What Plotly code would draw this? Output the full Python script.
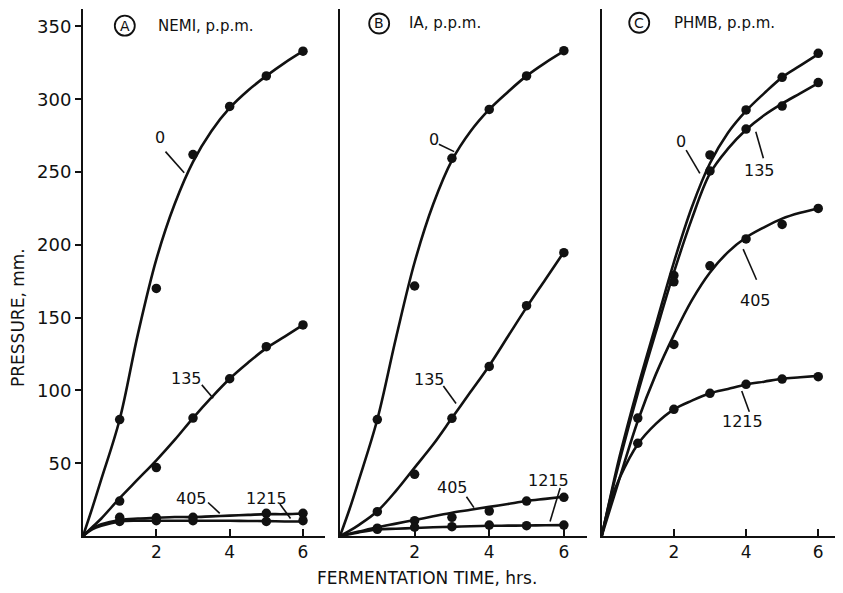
import plotly.graph_objects as go

# ---------------- data ----------------
HOURS = [1, 2, 3, 4, 5, 6]
CURVE_T = [0, 0.25, 0.5, 1, 1.5, 2, 2.5, 3, 3.5, 4, 4.5, 5, 5.5, 6]
SERIES = ["0", "135", "405", "1215"]
X_TICKS = [2, 4, 6]
Y_TICKS = [50, 100, 150, 200, 250, 300, 350]

# Panel A: NEMI, p.p.m.
NEMI_PTS = {
    "0":    [80, 170, 262, 295, 316, 333],
    "135":  [24, 47, 81, 108, 130, 145],
    "405":  [12.8, 12.5, 12.8, None, 15.6, 15.6],
    "1215": [10, 10.5, 10.5, None, 10, 10.5],
}
NEMI_CURVES = {
    "0":    [0, 19, 39, 80, 139, 190, 228, 257, 278, 294, 306, 316, 325, 333],
    "135":  [0, 6, 12, 26, 39, 52, 66, 81, 95, 108, 119, 129, 137, 145],
    "405":  [0, 5, 8, 11, 12, 12.5, 13, 13, 13.5, 14, 14.5, 15, 15, 15.5],
    "1215": [0, 4.5, 7, 10, 10.5, 10.5, 10.5, 10.5, 10.5, 10.5, 10.3, 10.2, 10, 10],
}

# Panel B: IA, p.p.m.
IA_PTS = {
    "0":    [80, 171.7, 259.4, 293, 316, 333.3],
    "135":  [16.7, 42.4, 80.8, 116.5, 158.2, 194.6],
    "405":  [5.4, 10.5, 12.8, 17.1, 24, 26.6],
    "1215": [4.6, 6, 6.4, 7.5, 7.1, 7.5],
}
IA_CURVES = {
    "0":    [0, 18, 38, 80, 136, 188, 228, 258, 278, 293, 305, 316, 325, 333],
    "135":  [0, 3.5, 7.5, 17, 31, 47, 63, 81, 99, 117, 137, 157, 176, 195],
    "405":  [0, 1.5, 3, 6, 8.5, 11, 13.5, 16, 18, 20, 22, 24, 25.5, 27],
    "1215": [0, 1.2, 2.5, 4.5, 5, 5.5, 6, 6.3, 6.7, 7, 7.1, 7.2, 7.4, 7.5],
}

# Panel C: PHMB, p.p.m.
PHMB_PTS = {
    "0":    [None, 179, 261.7, 292.6, 315, 331.5],
    "135":  [None, 174.6, 250.7, 279.5, 295.3, 311.4],
    "405":  [81, 131.6, 185.6, 204, 214, 225],
    "1215": [63.7, 87, 98, 104.2, 107.8, 109.4],
}
PHMB_CURVES = {
    "0":    [0, 28, 55, 102, 145, 188, 226, 256, 277, 292, 304, 315, 323, 331],
    "135":  [0, 27, 52, 98, 140, 181, 218, 249, 266, 279, 289, 297, 304, 311],
    "405":  [0, 20, 40, 79, 111, 138, 162, 181, 195, 205, 212, 218, 222, 225],
    "1215": [0, 24, 40, 63, 77, 87, 93, 98, 101, 104, 106, 108, 109, 110],
}

PANELS = [
    ("A", "NEMI, p.p.m.", NEMI_PTS, NEMI_CURVES),
    ("B", "IA, p.p.m.", IA_PTS, IA_CURVES),
    ("C", "PHMB, p.p.m.", PHMB_PTS, PHMB_CURVES),
]

# ---------------- layout / styling ----------------
PAGE_W, PAGE_H = 843, 593
OFF = 8                       # default page margin around the plot div
W, H = PAGE_W - OFF, PAGE_H - OFF
FONT = "DejaVu Sans"
INK = "#111111"


def px_x(p):
    return min(max((p - OFF) / W, 0), 1)


def px_y(p):
    return min(max((H - (p - OFF)) / H, 0), 1)


# pixel geometry (page pixels) of each panel (left, right) and common (bottom, top)
PANEL_PX = [(83, 325), (340, 587), (601.7, 837)]
X_RANGES = [[0, 6.6], [0, 6.62], [0, 6.52]]
Y_BOTTOM_PX, Y_TOP_PX = 536, 9
Y_RANGE = [0, (Y_BOTTOM_PX - Y_TOP_PX) / 1.456]

# label annotations: (panel, text, x, y, leader x0, y0, x1, y1)
LABELS = [
    (0, "0", 2.1, 274, 2.25, 264, 2.76, 249.5),
    (0, "135", 2.83, 108, 3.24, 103.8, 3.55, 94.6),
    (0, "405", 2.96, 26, 3.41, 23, 3.73, 15.6),
    (0, "1215", 5.0, 26, 5.37, 22, 5.66, 12),
    (1, "0", 2.52, 272, 2.65, 269, 3.06, 264),
    (1, "135", 2.41, 107.6, 2.77, 103, 3.11, 91),
    (1, "405", 3.01, 33, 3.39, 27, 3.59, 19.5),
    (1, "1215", 5.58, 37.8, 5.9, 33, 5.63, 10),
    (2, "0", 2.19, 270.8, 2.34, 265, 2.72, 249),
    (2, "135", 4.37, 251, 4.48, 259.4, 4.27, 277.7),
    (2, "405", 4.25, 162, 4.29, 176, 3.92, 197),
    (2, "1215", 3.9, 78.5, 4.09, 85.4, 3.88, 99.6),
]
# panel titles: (circle x, circle y, text x)
TITLE_POS = [(1.14, 350.5, 2.0), (1.05, 352, 1.8), (1.04, 352.5, 1.94)]

fig = go.Figure()
annotations = []
shapes = []

for i, (letter, title, pts, curves) in enumerate(PANELS):
    sfx = "" if i == 0 else str(i + 1)
    xref, yref = "x" + sfx, "y" + sfx
    for s in SERIES:
        fig.add_trace(go.Scatter(
            x=CURVE_T, y=curves[s], mode="lines", xaxis=xref, yaxis=yref,
            line=dict(color=INK, width=2.6, shape="spline", smoothing=1.0),
            showlegend=False, hoverinfo="skip"))
        fig.add_trace(go.Scatter(
            x=HOURS, y=pts[s], mode="markers", xaxis=xref, yaxis=yref,
            marker=dict(color=INK, size=9.5, line=dict(width=0)),
            showlegend=False, name=f"{letter} {s} p.p.m."))

    l, r = PANEL_PX[i]
    xa = dict(domain=[px_x(l), px_x(r)], range=X_RANGES[i], showgrid=False,
              zeroline=False, showline=True, linecolor=INK, linewidth=2,
              tickmode="array", tickvals=X_TICKS, ticktext=[str(t) for t in X_TICKS],
              ticks="inside", ticklen=7, tickwidth=2, tickcolor=INK,
              tickfont=dict(family=FONT, size=17, color=INK),
              anchor=yref, automargin=False, fixedrange=True)
    ya = dict(domain=[px_y(Y_BOTTOM_PX), px_y(Y_TOP_PX)], range=Y_RANGE,
              showgrid=False, zeroline=False, showline=True, linecolor=INK,
              linewidth=2, anchor=xref, automargin=False, fixedrange=True)
    if i == 0:
        ya.update(tickmode="array", tickvals=Y_TICKS,
                  ticktext=[str(t) for t in Y_TICKS], ticks="outside",
                  ticklen=6, tickwidth=2, tickcolor=INK,
                  tickfont=dict(family=FONT, size=18, color=INK))
    else:
        ya.update(showticklabels=False, ticks="")
    fig.layout["xaxis" + sfx] = xa
    fig.layout["yaxis" + sfx] = ya

    cx, cy, tx = TITLE_POS[i]
    shapes.append(dict(type="circle", xref=xref, yref=yref, xsizemode="pixel",
                       ysizemode="pixel", xanchor=cx, yanchor=cy,
                       x0=-10, x1=10, y0=-10, y1=10,
                       line=dict(color=INK, width=1.8)))
    annotations.append(dict(x=cx, y=cy, xref=xref, yref=yref, text=letter,
                            showarrow=False, xanchor="center", yanchor="middle",
                            font=dict(family=FONT, size=14, color=INK)))
    annotations.append(dict(x=tx, y=cy, xref=xref, yref=yref, text=title,
                            showarrow=False, xanchor="left", yanchor="middle",
                            font=dict(family=FONT, size=15, color=INK)))

for (p, txt, x, y, x0, y0, x1, y1) in LABELS:
    sfx = "" if p == 0 else str(p + 1)
    annotations.append(dict(x=x, y=y, xref="x" + sfx, yref="y" + sfx, text=txt,
                            showarrow=False, xanchor="center", yanchor="middle",
                            font=dict(family=FONT, size=16, color=INK)))
    shapes.append(dict(type="line", xref="x" + sfx, yref="y" + sfx,
                       x0=x0, y0=y0, x1=x1, y1=y1,
                       line=dict(color=INK, width=1.6)))

annotations.append(dict(x=px_x(18), y=px_y(318), xref="paper", yref="paper",
                        text="PRESSURE, mm.", textangle=-90, showarrow=False,
                        xanchor="center", yanchor="middle",
                        font=dict(family=FONT, size=17, color=INK)))
annotations.append(dict(x=px_x(427), y=px_y(578), xref="paper", yref="paper",
                        text="FERMENTATION TIME, hrs.", showarrow=False,
                        xanchor="center", yanchor="middle",
                        font=dict(family=FONT, size=17, color=INK)))

fig.update_layout(template="none", width=W, height=H,
                  margin=dict(l=0, r=0, t=0, b=0, autoexpand=False),
                  paper_bgcolor="white", plot_bgcolor="white",
                  annotations=annotations, shapes=shapes, showlegend=False)

fig.write_html("out.html", include_plotlyjs=True)
